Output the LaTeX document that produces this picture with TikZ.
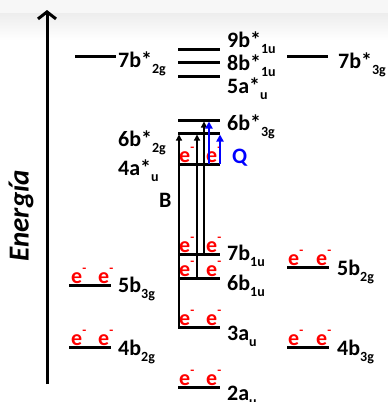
\documentclass[tikz,border=0pt]{standalone}
\usepackage{fontspec}
\setmainfont{Carlito}
\usetikzlibrary{arrows.meta}
\newcommand\sbs[1]{\raisebox{-0.3em}{\fontsize{14}{14}\selectfont #1}}
\newcommand\elec{e\raisebox{0.5em}{\fontsize{13}{13}\selectfont -}}
\begin{document}
\begin{tikzpicture}[x=1pt,y=-1pt,font=\fontsize{22}{22}\selectfont\bfseries,
  lev/.style={line width=3pt},
  lab/.style={anchor=base west,inner sep=0pt},
  el/.style={anchor=base west,inner sep=0pt,text=red},
  tr/.style={line width=1.3pt,-{Triangle[length=6pt,width=6pt]}},
  trq/.style={line width=1.8pt,draw=blue,-{Triangle[length=7pt,width=7pt]}}]
\useasboundingbox (0,0) rectangle (388,402);
\fill[black!3] (0,0) rectangle (388,13);
\shade[top color=black!7,bottom color=white] (0,13) rectangle (388,40);
% energy axis
\coordinate (ax0) at (47,384);
\coordinate (ax1) at (47,10);
\draw[line width=3pt,-{Straight Barb[length=7pt,width=18pt]}] (ax0) -- (ax1);
\node[rotate=90,font=\fontsize{29}{29}\selectfont\bfseries\itshape] (en) at (21,216) {Energía};
% center levels
\foreach \y in {49,62,76,120,133,164,254,278,327,387}{
  \draw[lev] (178,\y) -- (220,\y);
}
% left levels
\draw[lev] (75,56) -- (116,56);
\draw[lev] (69,285) -- (111,285);
\draw[lev] (69,347) -- (111,347);
% right levels
\draw[lev] (287,56) -- (328,56);
\draw[lev] (287,267) -- (329,267);
\draw[lev] (287,347) -- (329,347);
% labels
\node[lab] (l1) at (118,67) {7b*\sbs{2g}};
\node[lab] (l2) at (338,68) {7b*\sbs{3g}};
\node[lab] (l3) at (227,47) {9b*\sbs{1u}};
\node[lab] (l4) at (227,70) {8b*\sbs{1u}};
\node[lab] (l5) at (227,93) {5a*\sbs{u}};
\node[lab] (l6) at (227,130) {6b*\sbs{3g}};
\node[lab] (l7) at (118,146) {6b*\sbs{2g}};
\node[lab] (l8) at (118,175) {4a*\sbs{u}};
\node[lab] (l9) at (159,207) {B};
\node[lab,text=blue] (l10) at (232,163) {Q};
\node[lab] (l11) at (227,260) {7b\sbs{1u}};
\node[lab] (l12) at (227,290) {6b\sbs{1u}};
\node[lab] (l13) at (227,340) {3a\sbs{u}};
\node[lab] (l14) at (227,400) {2a\sbs{u}};
\node[lab] (l15) at (118,292) {5b\sbs{3g}};
\node[lab] (l16) at (118,355) {4b\sbs{2g}};
\node[lab] (l17) at (337,275) {5b\sbs{2g}};
\node[lab] (l18) at (337,355) {4b\sbs{3g}};
% electrons
\foreach \x/\y in {179/162,206/162,179/252,206/252,179/276,206/276,179/325,206/325,179/385,206/385,
  71/283,98/283,71/345,98/345,288/265,316/265,288/345,316/345}{
  \node[el] at (\x,\y) {\elec};
}
% transitions
\coordinate (a1) at (179,327); \coordinate (b1) at (179,134.5);
\coordinate (a2) at (197,278); \coordinate (b2) at (197,134.5);
\coordinate (a3) at (204,254); \coordinate (b3) at (204,121.5);
\coordinate (a4) at (209,164); \coordinate (b4) at (209,121.5);
\coordinate (a5) at (220,164); \coordinate (b5) at (220,134.5);
\draw[tr] (a1) -- (b1);
\draw[tr] (a2) -- (b2);
\draw[tr] (a3) -- (b3);
\draw[trq] (a4) -- (b4);
\draw[trq] (a5) -- (b5);
\end{tikzpicture}
\end{document}
